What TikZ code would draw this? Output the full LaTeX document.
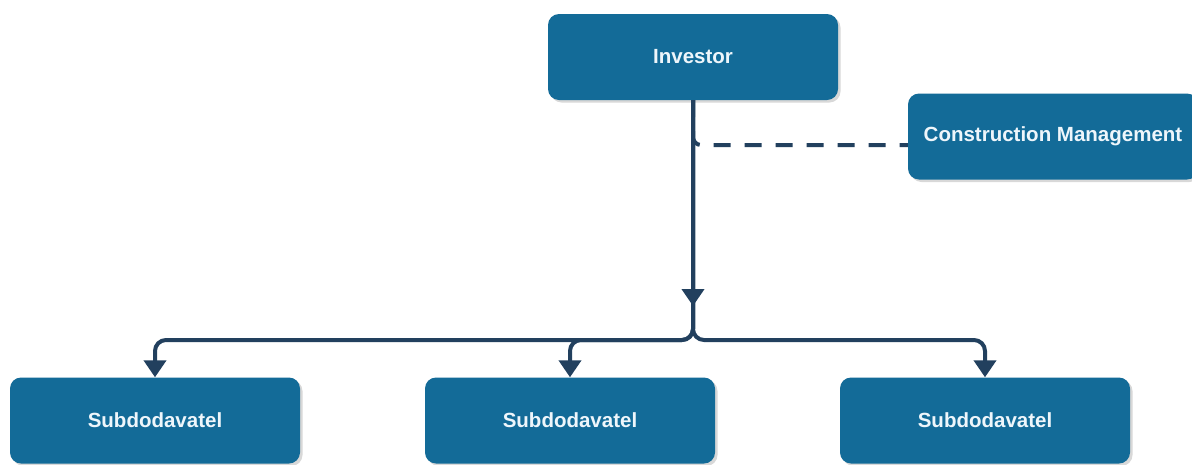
\documentclass[tikz,border=0pt]{standalone}
\usepackage{fontspec}
\setmainfont{Liberation Sans}
\usetikzlibrary{arrows.meta,shadows,positioning}
\definecolor{boxfill}{HTML}{136B98}
\definecolor{boxtext}{HTML}{EEF6FB}
\definecolor{linkcol}{HTML}{22405E}
\tikzset{
  orgbox/.style={draw=none, fill=boxfill, rounded corners=11pt,
    minimum width=290pt, minimum height=86pt, inner sep=0pt,
    text=boxtext, font=\fontsize{20.5}{24}\selectfont\bfseries,
    drop shadow={shadow xshift=2.5pt, shadow yshift=-2.5pt, opacity=0.25, fill=black!60}},
  link/.style={draw=linkcol, line width=4pt},
  tip/.style={-{Triangle[width=22pt,length=17pt]}},
  dashlink/.style={link, dash pattern=on 17pt off 14pt}
}
\begin{document}
\begin{tikzpicture}[x=1pt,y=-1pt]
  \useasboundingbox (0,0) rectangle (1192,464);
  \fill[white] (0,0) rectangle (1192,464);

  % boxes
  \node[orgbox] (inv) at (693,57) {Investor};
  \node[orgbox] (cm) at (1053,136.5) {Construction Management};
  \node[orgbox] (s1) at (155,420.5) {Subdodavatel};
  \node[orgbox] (s2) at (570,420.5) {Subdodavatel};
  \node[orgbox] (s3) at (985,420.5) {Subdodavatel};

  % reference points for the routing
  \coordinate (bus) at (0,340);
  \coordinate (dashrow) at (0,145);
  \coordinate (midtip) at (693,306);

  % dashed link to construction management
  \draw[dashlink, rounded corners=8pt] (inv.south) |- (cm.west |- dashrow);

  % links down to the subcontractors
  \draw[link, tip, rounded corners=11pt] (inv.south) |- (s1.north |- bus) -- (s1.north);
  \draw[link, tip, rounded corners=11pt] (inv.south) |- (s2.north |- bus) -- (s2.north);
  \draw[link, tip, rounded corners=11pt] (inv.south) |- (s3.north |- bus) -- (s3.north);

  % arrow on the trunk line
  \draw[link, tip] (inv.south) -- (midtip);
\end{tikzpicture}
\end{document}
